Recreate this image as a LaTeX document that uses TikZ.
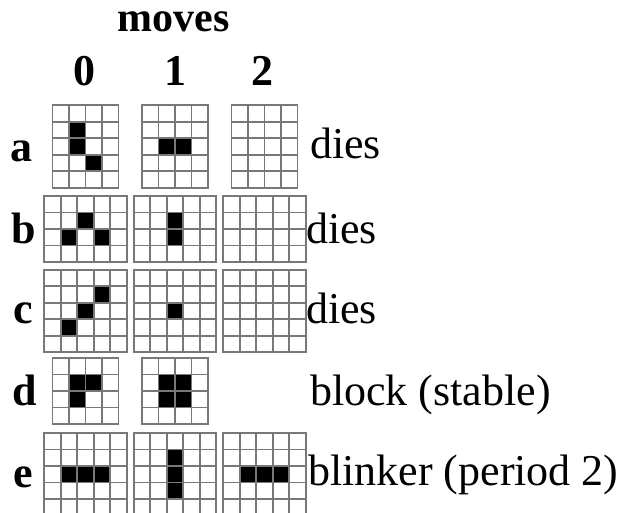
\documentclass[tikz,border=0pt]{standalone}
\usepackage{fontspec}
\setmainfont{Liberation Serif}
\tikzset{
  gridline/.style={draw={rgb,255:red,120;green,120;blue,120}, line width=1.9pt, line cap=rect},
  lbl/.style={font=\fontsize{44}{50}\selectfont\bfseries, anchor=base, inner sep=0pt},
  note/.style={font=\fontsize{44}{50}\selectfont, anchor=base west, inner sep=0pt},
}
% \lifegrid{cx}{cy}{cols}{rows}
\newcommand\lifegrid[4]{%
  \begin{scope}[shift={(#1-#3*8.25,#2-#4*8.25)}]
    \foreach \i in {0,...,#3} \draw[gridline] (\i*16.5,0) -- (\i*16.5,#4*16.5);
    \foreach \j in {0,...,#4} \draw[gridline] (0,\j*16.5) -- (#3*16.5,\j*16.5);
  \end{scope}}
% \lifecells{cx}{cy}{cols}{rows}{col/row list}
\newcommand\lifecells[5]{%
  \begin{scope}[shift={(#1-#3*8.25,#2-#4*8.25)}]
    \foreach \c/\r in {#5} \fill[black] (\c*16.5,\r*16.5) rectangle ++(16.5,16.5);
  \end{scope}}
\begin{document}
\begin{tikzpicture}[x=1pt,y=-1pt]
\useasboundingbox[fill=white] (0,0) rectangle (623,513);
% headers
\node[lbl, font=\fontsize{42}{48}\selectfont\bfseries] (moves) at (173.5,32) {moves};
\node[lbl] (m0) at (84,86) {0};
\node[lbl] (m1) at (175,86) {1};
\node[lbl] (m2) at (262,86) {2};
% row labels
\node[lbl] (la) at (21,162) {a};
\node[lbl] (lb) at (24,243) {b};
\node[lbl] (lc) at (23,323) {c};
\node[lbl] (ld) at (25,405) {d};
\node[lbl] (le) at (23,487) {e};
\begin{scope}
\clip (0,0) rectangle (623,513);
% row a
\lifecells{85.5}{146.5}{4}{5}{1/1,1/2,2/3}
\lifegrid{85.5}{146.5}{4}{5}
\lifecells{175}{146.5}{4}{5}{1/2,2/2}
\lifegrid{175}{146.5}{4}{5}
\lifegrid{264.5}{146.5}{4}{5}
% row b
\lifecells{85.5}{229}{5}{4}{2/1,1/2,3/2}
\lifegrid{85.5}{229}{5}{4}
\lifecells{175}{229}{5}{4}{2/1,2/2}
\lifegrid{175}{229}{5}{4}
\lifegrid{264.5}{229}{5}{4}
% row c
\lifecells{85.5}{311}{5}{5}{3/1,2/2,1/3}
\lifegrid{85.5}{311}{5}{5}
\lifecells{175}{311}{5}{5}{2/2}
\lifegrid{175}{311}{5}{5}
\lifegrid{264.5}{311}{5}{5}
% row d
\lifecells{85.5}{391}{4}{4}{1/1,2/1,1/2}
\lifegrid{85.5}{391}{4}{4}
\lifecells{175}{391}{4}{4}{1/1,2/1,1/2,2/2}
\lifegrid{175}{391}{4}{4}
% row e
\lifecells{85.5}{474.25}{5}{5}{1/2,2/2,3/2}
\lifegrid{85.5}{474.25}{5}{5}
\lifecells{175}{474.25}{5}{5}{2/1,2/2,2/3}
\lifegrid{175}{474.25}{5}{5}
\lifecells{264.5}{474.25}{5}{5}{1/2,2/2,3/2}
\lifegrid{264.5}{474.25}{5}{5}
\end{scope}
% right-hand notes
\node[note] (ta) at (310,159) {dies};
\node[note] (tb) at (306,243) {dies};
\node[note] (tc) at (306,323) {dies};
\node[note] (td) at (310,405) {block (stable)};
\node[note] (te) at (308,485) {blinker (period 2)};
\end{tikzpicture}
\end{document}
